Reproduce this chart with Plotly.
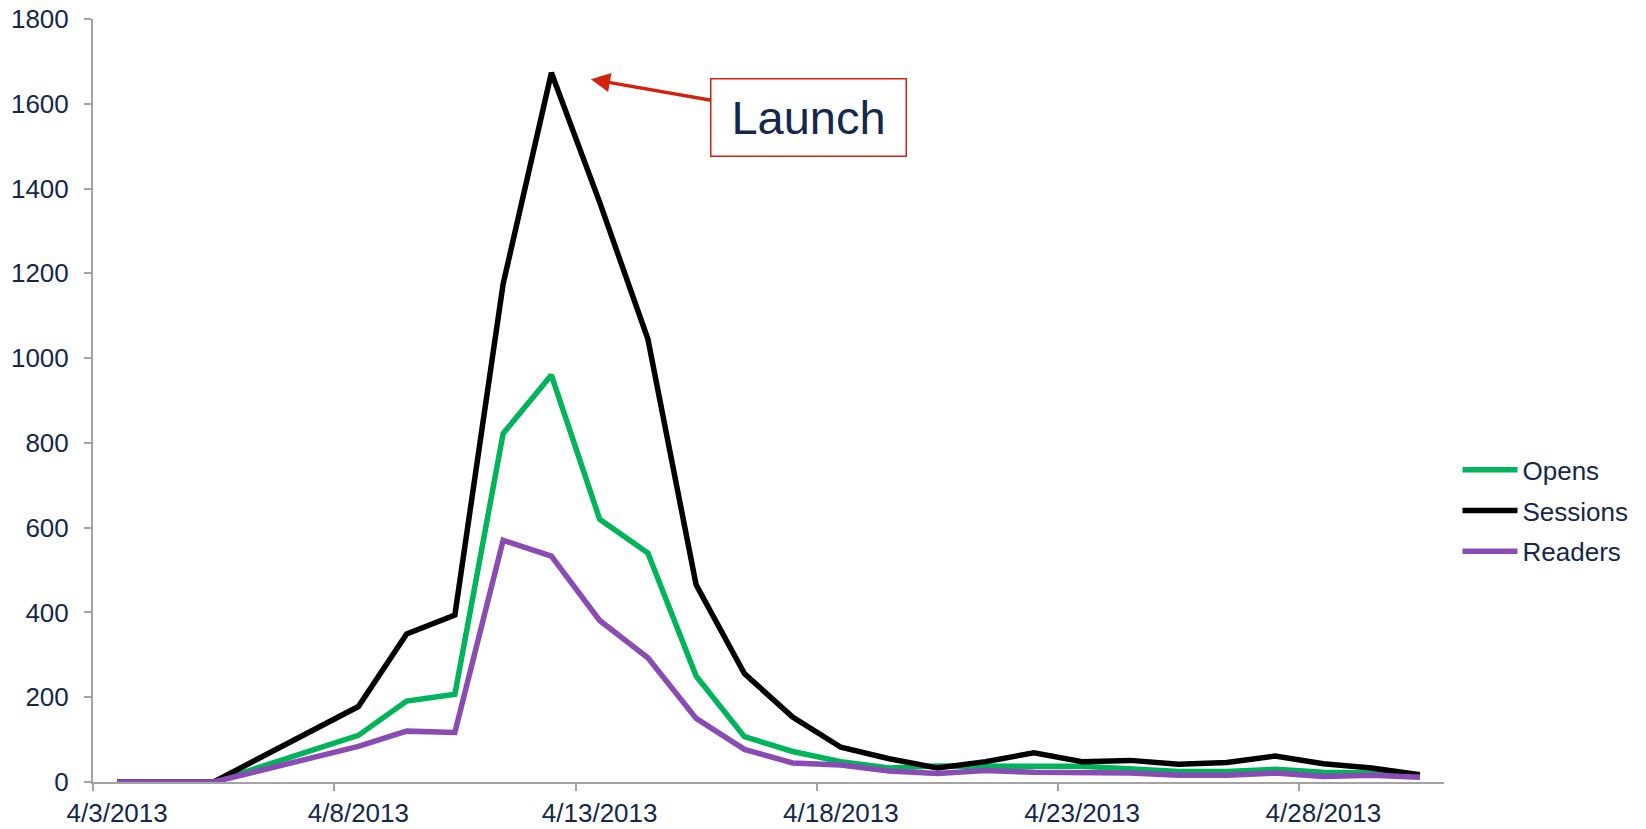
import pandas as pd
import plotly.graph_objects as go

# Daily app metrics, April 2013 (no entries for 4/6 and 4/7)
dates = [
    "2013-04-03", "2013-04-04", "2013-04-05", "2013-04-08", "2013-04-09",
    "2013-04-10", "2013-04-11", "2013-04-12", "2013-04-13", "2013-04-14",
    "2013-04-15", "2013-04-16", "2013-04-17", "2013-04-18", "2013-04-19",
    "2013-04-20", "2013-04-21", "2013-04-22", "2013-04-23", "2013-04-24",
    "2013-04-25", "2013-04-26", "2013-04-27", "2013-04-28", "2013-04-29",
    "2013-04-30",
]
opens = [0, 0, 0, 110, 191, 207, 822, 960, 620, 540, 250, 107, 72, 48,
         33, 38, 36, 37, 37, 31, 25, 25, 30, 23, 21, 15]
sessions = [0, 0, 0, 178, 349, 394, 1175, 1673, 1368, 1045, 465, 256, 153, 82,
            55, 33, 48, 69, 48, 51, 42, 46, 61, 43, 33, 17]
readers = [0, 0, 0, 84, 120, 117, 570, 533, 381, 293, 150, 77, 45, 40,
           26, 20, 27, 23, 22, 21, 16, 16, 21, 13, 16, 11]

tick_dates = ["2013-04-03", "2013-04-08", "2013-04-13", "2013-04-18",
              "2013-04-23", "2013-04-28"]
tick_labels = ["4/3/2013", "4/8/2013", "4/13/2013", "4/18/2013",
               "4/23/2013", "4/28/2013"]
y_ticks = [0, 200, 400, 600, 800, 1000, 1200, 1400, 1600, 1800]

series_names = ["Opens", "Sessions", "Readers"]
series_colors = ["#00B45A", "#000000", "#8A4CB4"]

TEXT = "#13284C"
AXIS = "#A3A3A3"
FONT = "Liberation Sans, Arial, sans-serif"

# each day is drawn in the middle of its slot on the date axis
half_day = pd.Timedelta(hours=12)
x_mid = pd.to_datetime(dates) + half_day
tick_mid = pd.to_datetime(tick_dates) + half_day

fig = go.Figure()
for name, vals, color in zip(series_names, [opens, sessions, readers], series_colors):
    fig.add_trace(go.Scatter(
        x=x_mid, y=vals, name=name, mode="lines", legendgroup=name,
        line=dict(color=color, width=5.5),
    ))

fig.update_layout(
    width=1646, height=829,
    margin=dict(l=93, r=199, t=19, b=47),
    paper_bgcolor="white", plot_bgcolor="white",
    font=dict(family=FONT, size=26, color=TEXT),
    showlegend=True,
    legend=dict(
        x=1.01, xanchor="left", y=0.44, yanchor="top",
        font=dict(size=26, color=TEXT), itemwidth=55,
        bgcolor="rgba(0,0,0,0)", tracegroupgap=4,
    ),
    xaxis=dict(
        type="date", automargin=False,
        range=["2013-04-03", "2013-05-01"],
        tickmode="array", tickvals=tick_mid, ticktext=tick_labels,
        ticks="", showgrid=False, zeroline=False,
        showline=True, linecolor=AXIS, linewidth=2,
        minor=dict(tickmode="array", tickvals=pd.to_datetime(tick_dates),
                   ticks="outside", ticklen=7, tickwidth=2, tickcolor=AXIS,
                   showgrid=False),
        tickfont=dict(size=26, color=TEXT),
        ticklabelstandoff=7,
    ),
    yaxis=dict(
        range=[0, 1800], automargin=False,
        tickmode="array", tickvals=y_ticks,
        ticks="outside", ticklen=7, tickwidth=2, tickcolor=AXIS,
        showgrid=False, zeroline=False,
        showline=True, linecolor=AXIS, linewidth=2,
        tickfont=dict(size=26, color=TEXT),
        ticklabelstandoff=10,
    ),
)

# callout pointing at the launch-day peak
fig.add_annotation(
    xref="paper", yref="paper", x=0.3685, y=0.921,
    ax=218, ay=38,
    text="Launch", showarrow=True,
    font=dict(size=47, color=TEXT, family=FONT),
    bordercolor="#D2220E", borderwidth=1.5, bgcolor="white",
    width=192, height=74, align="center", valign="middle",
    arrowhead=2, arrowsize=1.1, arrowwidth=3.5, arrowcolor="#D2220E",
    standoff=0,
)

fig.write_html("out.html")
